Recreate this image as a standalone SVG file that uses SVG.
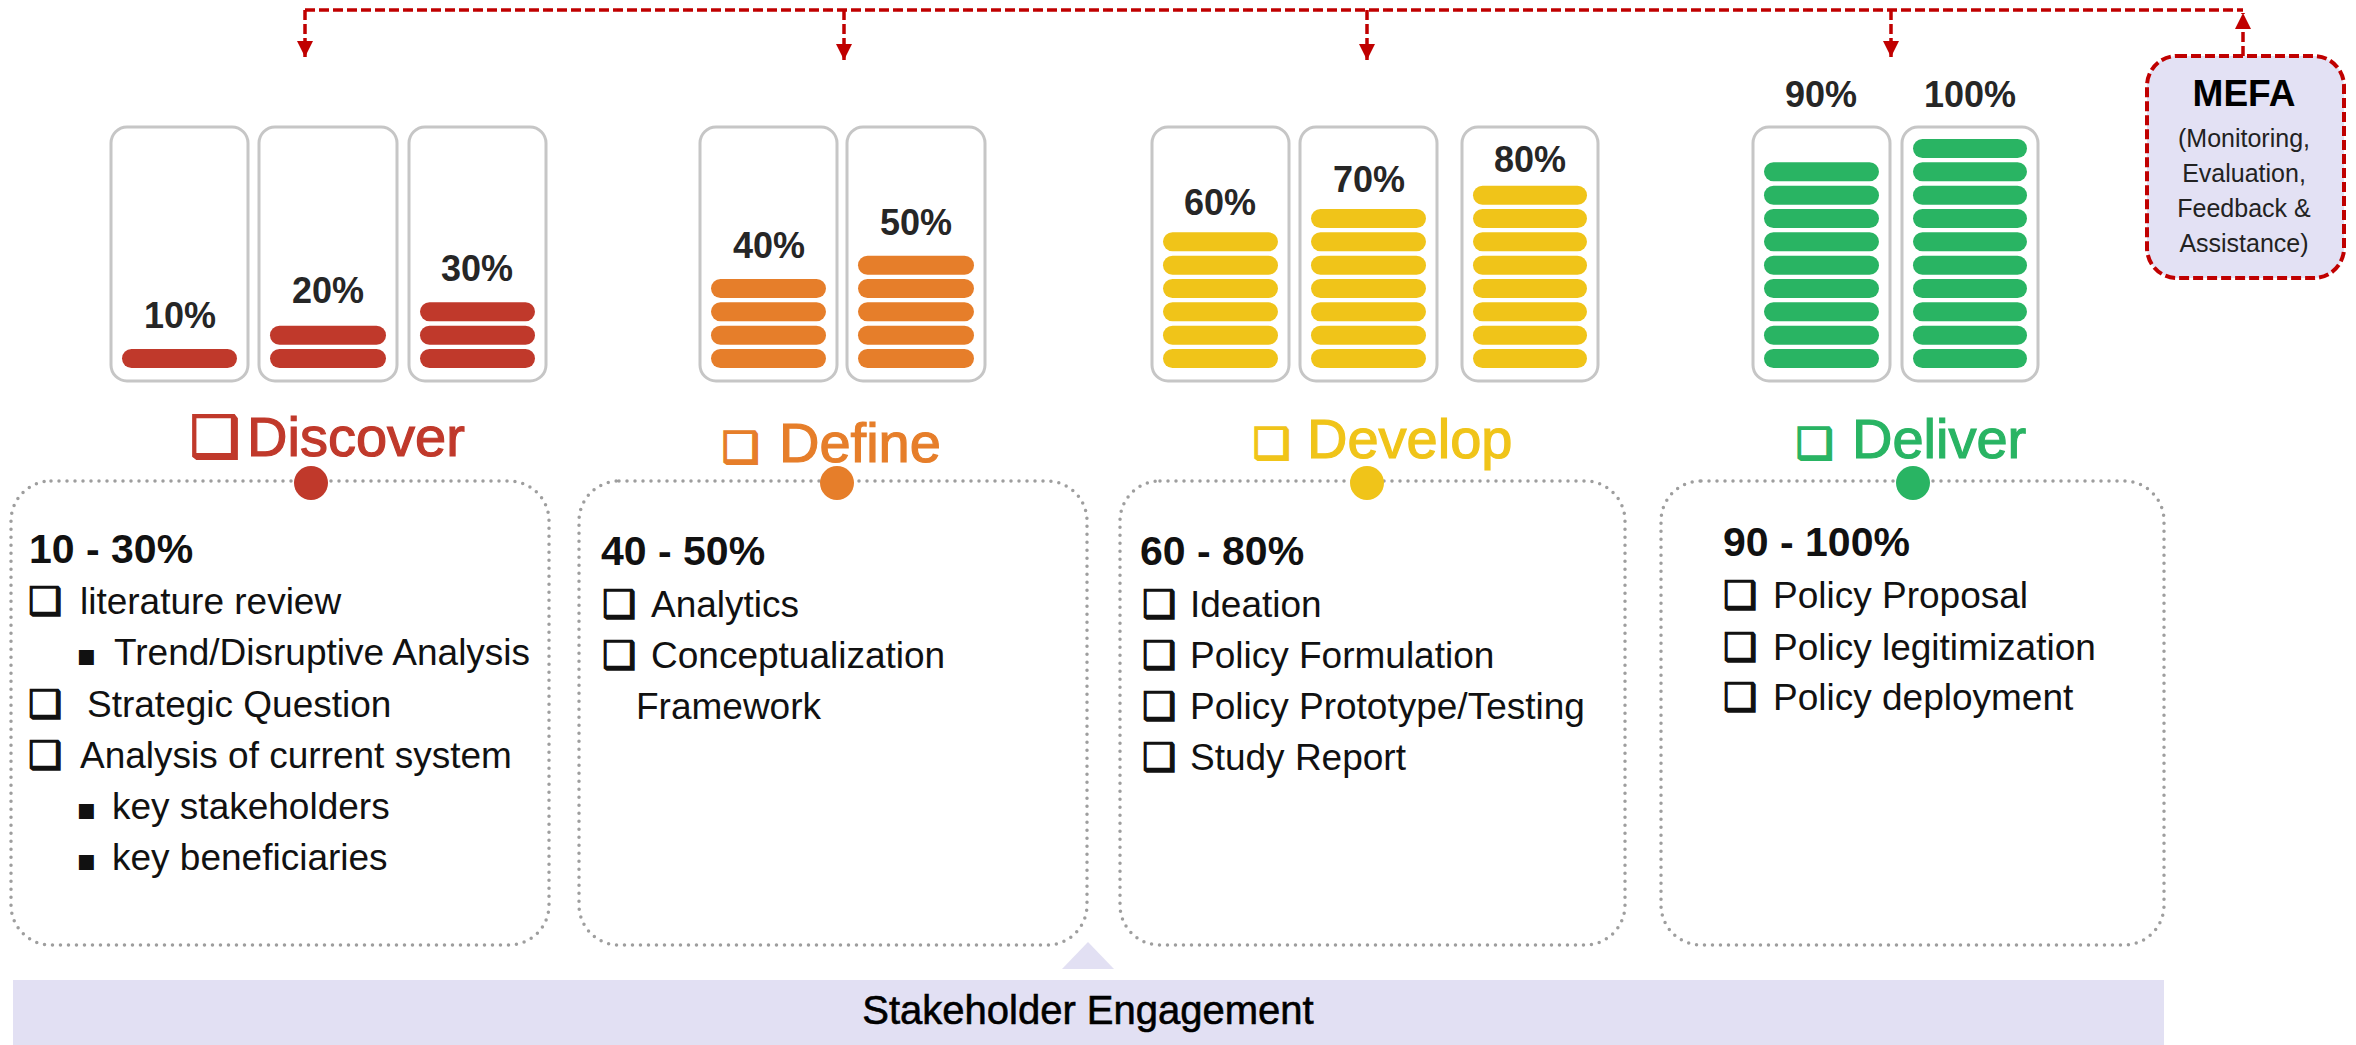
<svg xmlns="http://www.w3.org/2000/svg" width="2356" height="1045" viewBox="0 0 2356 1045">
<style>
.bg{fill:#ffffff}
.gauge{fill:#ffffff;stroke:#c6c6c6;stroke-width:3}
.pct{font-family:"Liberation Sans",Arial,sans-serif;font-weight:bold;font-size:36px;fill:#262626;text-anchor:middle}
.ttl{font-family:"Liberation Sans",Arial,sans-serif;font-size:56px;stroke-width:1.2}
.cbx{font-family:"DejaVu Sans",sans-serif;stroke-width:2}
.panel{fill:#ffffff;stroke:#9e9e9e;stroke-width:3.5;stroke-dasharray:0 8;stroke-linecap:round}
.hd{font-family:"Liberation Sans",Arial,sans-serif;font-weight:bold;font-size:41px;fill:#111111}
.bd{font-family:"Liberation Sans",Arial,sans-serif;font-size:37px;fill:#111111}
.chk{font-family:"DejaVu Sans",sans-serif;font-size:38px;fill:#111111;stroke:#111111;stroke-width:1.4}
.bul{font-family:"DejaVu Sans",sans-serif;font-size:30px;fill:#111111}
.fb{stroke:#c00000;stroke-width:3.5;stroke-dasharray:10 4;fill:none}
.red{fill:#c0392b}.org{fill:#e67e2a}.yel{fill:#f0c419}.grn{fill:#29b463}
.ttl.red{stroke:#c0392b}.ttl.org{stroke:#e67e2a}.ttl.yel{stroke:#f0c419}.ttl.grn{stroke:#29b463}
</style>
<defs>
<marker id="ah" viewBox="0 0 10 10" refX="10" refY="5" markerWidth="17" markerHeight="16" markerUnits="userSpaceOnUse" orient="auto">
<path d="M0,0 L10,5 L0,10 z" fill="#c00000"/>
</marker>
</defs>
<rect class="bg" x="0" y="0" width="2356" height="1045"/>

<g id="connectors">
<path class="fb" d="M2243,56 V13" marker-end="url(#ah)"/>
<path class="fb" d="M305,10 H2243"/>
<path class="fb" d="M305,10 V57" marker-end="url(#ah)"/>
<path class="fb" d="M844,10 V60" marker-end="url(#ah)"/>
<path class="fb" d="M1367,10 V60" marker-end="url(#ah)"/>
<path class="fb" d="M1891,10 V57" marker-end="url(#ah)"/>
</g>

<g id="mefa">
<rect x="2147" y="56" width="197" height="222" rx="30" fill="#e3e1f4" stroke="#c00000" stroke-width="4" stroke-dasharray="10 4"/>
<text x="2244" y="106" font-family="Liberation Sans, Arial, sans-serif" font-weight="bold" font-size="37" text-anchor="middle" fill="#000">MEFA</text>
<g font-family="Liberation Sans, Arial, sans-serif" font-size="25" text-anchor="middle" fill="#222">
<text x="2244" y="147">(Monitoring,</text>
<text x="2244" y="182">Evaluation,</text>
<text x="2244" y="217">Feedback &amp;</text>
<text x="2244" y="252">Assistance)</text>
</g>
</g>

<g id="gauges-discover">
<rect class="gauge" x="111" y="127" width="137" height="254" rx="16"/>
<rect class="gauge" x="259" y="127" width="138" height="254" rx="16"/>
<rect class="gauge" x="409" y="127" width="137" height="254" rx="16"/>
<g class="red">
<rect x="122" y="349" width="115" height="19" rx="9.5"/>
<rect x="270" y="349" width="116" height="19" rx="9.5"/>
<rect x="270" y="325.7" width="116" height="19" rx="9.5"/>
<rect x="420" y="349" width="115" height="19" rx="9.5"/>
<rect x="420" y="325.7" width="115" height="19" rx="9.5"/>
<rect x="420" y="302.3" width="115" height="19" rx="9.5"/>
</g>
<text class="pct" x="180" y="328">10%</text>
<text class="pct" x="328" y="303">20%</text>
<text class="pct" x="477" y="281">30%</text>
</g>

<g id="gauges-define">
<rect class="gauge" x="700" y="127" width="137" height="254" rx="16"/>
<rect class="gauge" x="847" y="127" width="138" height="254" rx="16"/>
<g class="org">
<rect x="711" y="349" width="115" height="19" rx="9.5"/>
<rect x="711" y="325.7" width="115" height="19" rx="9.5"/>
<rect x="711" y="302.3" width="115" height="19" rx="9.5"/>
<rect x="711" y="279" width="115" height="19" rx="9.5"/>
<rect x="858" y="349" width="116" height="19" rx="9.5"/>
<rect x="858" y="325.7" width="116" height="19" rx="9.5"/>
<rect x="858" y="302.3" width="116" height="19" rx="9.5"/>
<rect x="858" y="279" width="116" height="19" rx="9.5"/>
<rect x="858" y="255.7" width="116" height="19" rx="9.5"/>
</g>
<text class="pct" x="769" y="258">40%</text>
<text class="pct" x="916" y="235">50%</text>
</g>

<g id="gauges-develop">
<rect class="gauge" x="1152" y="127" width="137" height="254" rx="16"/>
<rect class="gauge" x="1300" y="127" width="137" height="254" rx="16"/>
<rect class="gauge" x="1462" y="127" width="136" height="254" rx="16"/>
<g class="yel">
<rect x="1163" y="349" width="115" height="19" rx="9.5"/>
<rect x="1163" y="325.7" width="115" height="19" rx="9.5"/>
<rect x="1163" y="302.3" width="115" height="19" rx="9.5"/>
<rect x="1163" y="279" width="115" height="19" rx="9.5"/>
<rect x="1163" y="255.7" width="115" height="19" rx="9.5"/>
<rect x="1163" y="232.3" width="115" height="19" rx="9.5"/>
<rect x="1311" y="349" width="115" height="19" rx="9.5"/>
<rect x="1311" y="325.7" width="115" height="19" rx="9.5"/>
<rect x="1311" y="302.3" width="115" height="19" rx="9.5"/>
<rect x="1311" y="279" width="115" height="19" rx="9.5"/>
<rect x="1311" y="255.7" width="115" height="19" rx="9.5"/>
<rect x="1311" y="232.3" width="115" height="19" rx="9.5"/>
<rect x="1311" y="209" width="115" height="19" rx="9.5"/>
<rect x="1473" y="349" width="114" height="19" rx="9.5"/>
<rect x="1473" y="325.7" width="114" height="19" rx="9.5"/>
<rect x="1473" y="302.3" width="114" height="19" rx="9.5"/>
<rect x="1473" y="279" width="114" height="19" rx="9.5"/>
<rect x="1473" y="255.7" width="114" height="19" rx="9.5"/>
<rect x="1473" y="232.3" width="114" height="19" rx="9.5"/>
<rect x="1473" y="209" width="114" height="19" rx="9.5"/>
<rect x="1473" y="185.7" width="114" height="19" rx="9.5"/>
</g>
<text class="pct" x="1220" y="215">60%</text>
<text class="pct" x="1369" y="192">70%</text>
<text class="pct" x="1530" y="172">80%</text>
</g>

<g id="gauges-deliver">
<rect class="gauge" x="1753" y="127" width="137" height="254" rx="16"/>
<rect class="gauge" x="1902" y="127" width="136" height="254" rx="16"/>
<g class="grn">
<rect x="1764" y="349" width="115" height="19" rx="9.5"/>
<rect x="1764" y="325.7" width="115" height="19" rx="9.5"/>
<rect x="1764" y="302.3" width="115" height="19" rx="9.5"/>
<rect x="1764" y="279" width="115" height="19" rx="9.5"/>
<rect x="1764" y="255.7" width="115" height="19" rx="9.5"/>
<rect x="1764" y="232.3" width="115" height="19" rx="9.5"/>
<rect x="1764" y="209" width="115" height="19" rx="9.5"/>
<rect x="1764" y="185.7" width="115" height="19" rx="9.5"/>
<rect x="1764" y="162.3" width="115" height="19" rx="9.5"/>
<rect x="1913" y="349" width="114" height="19" rx="9.5"/>
<rect x="1913" y="325.7" width="114" height="19" rx="9.5"/>
<rect x="1913" y="302.3" width="114" height="19" rx="9.5"/>
<rect x="1913" y="279" width="114" height="19" rx="9.5"/>
<rect x="1913" y="255.7" width="114" height="19" rx="9.5"/>
<rect x="1913" y="232.3" width="114" height="19" rx="9.5"/>
<rect x="1913" y="209" width="114" height="19" rx="9.5"/>
<rect x="1913" y="185.7" width="114" height="19" rx="9.5"/>
<rect x="1913" y="162.3" width="114" height="19" rx="9.5"/>
<rect x="1913" y="139" width="114" height="19" rx="9.5"/>
</g>
<text class="pct" x="1821" y="107">90%</text>
<text class="pct" x="1970" y="107">100%</text>
</g>

<g id="stakeholder">
<polygon points="1088,942 1114,969 1062,969" fill="#e2e0f3"/>
<rect x="13" y="980" width="2151" height="65" fill="#e2e0f3"/>
<text x="1088" y="1024" font-family="Liberation Sans, Arial, sans-serif" font-size="40" text-anchor="middle" fill="#000" stroke="#000" stroke-width="0.6">Stakeholder Engagement</text>
</g>

<g id="discover">
<text class="ttl red" x="190" y="456"><tspan class="cbx" font-size="56">❑</tspan><tspan x="247">Discover</tspan></text>
<rect class="panel" x="11" y="481" width="538" height="464" rx="40"/>
<circle class="red" cx="311" cy="483" r="17"/>
<text class="hd" x="29" y="563">10 - 30%</text>
<text class="chk" x="28" y="614">❑</text><text class="bd" x="80" y="614">literature review</text>
<text class="bul" x="76" y="665">▪</text><text class="bd" x="114" y="665">Trend/Disruptive Analysis</text>
<text class="chk" x="28" y="717">❑</text><text class="bd" x="87" y="717">Strategic Question</text>
<text class="chk" x="28" y="768">❑</text><text class="bd" x="80" y="768">Analysis of current system</text>
<text class="bul" x="76" y="819">▪</text><text class="bd" x="112" y="819">key stakeholders</text>
<text class="bul" x="76" y="870">▪</text><text class="bd" x="112" y="870">key beneficiaries</text>
</g>

<g id="define">
<text class="ttl org" x="722" y="462"><tspan class="cbx" font-size="42">❑</tspan><tspan x="779">Define</tspan></text>
<rect class="panel" x="579" y="481" width="508" height="464" rx="40"/>
<circle class="org" cx="837" cy="483" r="17"/>
<text class="hd" x="601" y="565">40 - 50%</text>
<text class="chk" x="602" y="617">❑</text><text class="bd" x="651" y="617">Analytics</text>
<text class="chk" x="602" y="668">❑</text><text class="bd" x="651" y="668">Conceptualization</text>
<text class="bd" x="636" y="719">Framework</text>
</g>

<g id="develop">
<text class="ttl yel" x="1253" y="458"><tspan class="cbx" font-size="42">❑</tspan><tspan x="1307">Develop</tspan></text>
<rect class="panel" x="1120" y="481" width="505" height="464" rx="40"/>
<circle class="yel" cx="1367" cy="483" r="17"/>
<text class="hd" x="1140" y="565">60 - 80%</text>
<text class="chk" x="1142" y="617">❑</text><text class="bd" x="1190" y="617">Ideation</text>
<text class="chk" x="1142" y="668">❑</text><text class="bd" x="1190" y="668">Policy Formulation</text>
<text class="chk" x="1142" y="719">❑</text><text class="bd" x="1190" y="719">Policy Prototype/Testing</text>
<text class="chk" x="1142" y="770">❑</text><text class="bd" x="1190" y="770">Study Report</text>
</g>

<g id="deliver">
<text class="ttl grn" x="1796" y="458"><tspan class="cbx" font-size="42">❑</tspan><tspan x="1852">Deliver</tspan></text>
<rect class="panel" x="1661" y="481" width="503" height="464" rx="40"/>
<circle class="grn" cx="1913" cy="483" r="17"/>
<text class="hd" x="1723" y="556">90 - 100%</text>
<text class="chk" x="1723" y="608">❑</text><text class="bd" x="1773" y="608">Policy Proposal</text>
<text class="chk" x="1723" y="660">❑</text><text class="bd" x="1773" y="660">Policy legitimization</text>
<text class="chk" x="1723" y="710">❑</text><text class="bd" x="1773" y="710">Policy deployment</text>
</g>
</svg>
